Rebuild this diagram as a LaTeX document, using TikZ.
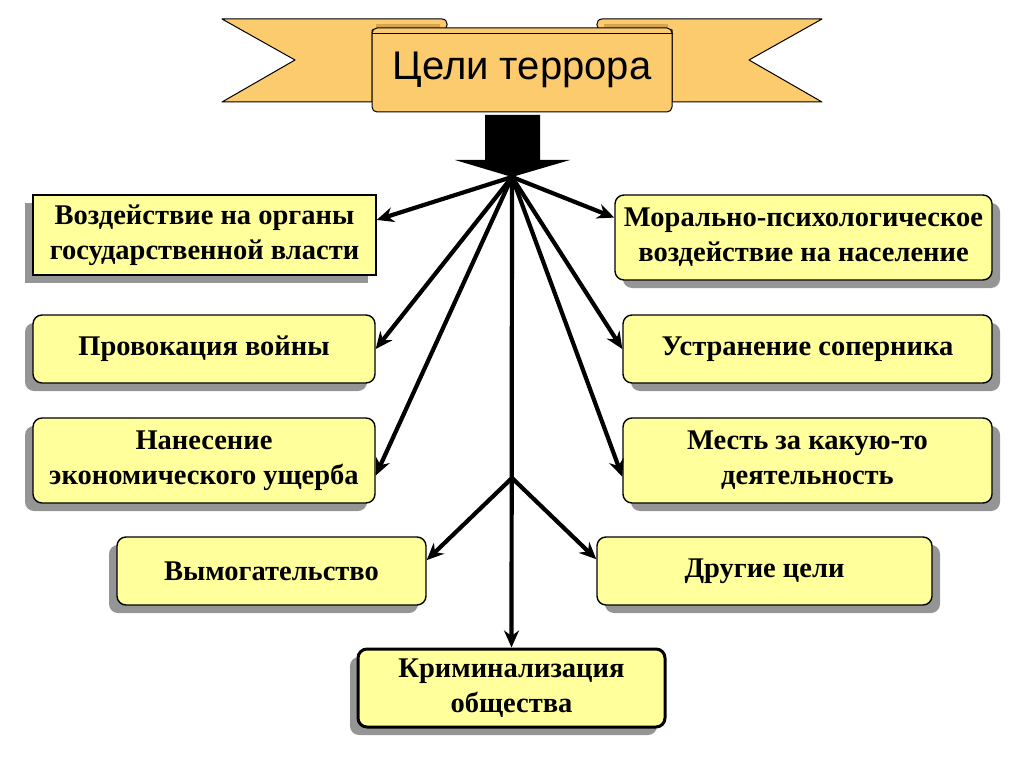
\documentclass[tikz,border=0pt]{standalone}
\usepackage{fontspec}
\setmainfont{Liberation Serif}
\newfontfamily\bannerfont{Liberation Sans}
\usetikzlibrary{arrows.meta,shadows}
\definecolor{ribbon}{HTML}{FBCB6E}
\definecolor{ribbondark}{HTML}{D6A64E}
\definecolor{goalfill}{HTML}{FFFF9C}
\definecolor{shadowgray}{HTML}{959595}

\begin{document}
\begin{tikzpicture}[x=1pt,y=-1pt,
		goal/.style={draw,line width=1.4pt,fill=goalfill,rounded corners=9pt,align=center,inner sep=0pt,font=\bfseries\fontsize{28.5}{35}\selectfont},
		lshadow/.style={drop shadow={shadow xshift=-8pt,shadow yshift=-8pt,fill=shadowgray,opacity=1}},
		rshadow/.style={drop shadow={shadow xshift=8pt,shadow yshift=-8pt,fill=shadowgray,opacity=1}},
		link/.style={line width=4.2pt,-{Stealth[length=17pt,width=15pt]}},
		ribbonpart/.style={draw,line width=1pt,fill=ribbon,line join=round}]
		\useasboundingbox (0,0) rectangle (1024,767);

		\draw[ribbonpart] (222,19) -- (442,19) to[out=0,in=0,looseness=1.6] (442,30) -- (372,30) -- (372,102) -- (222,102) -- (295,60) -- cycle;
		\draw[ribbonpart] (822,19) -- (602,19) to[out=180,in=180,looseness=1.6] (602,30) -- (672,30) -- (672,102) -- (822,102) -- (749,60) -- cycle;
		\fill[ribbondark] (376,24) rectangle (440,30);
		\fill[ribbondark] (604,24) rectangle (668,30);
		\node[draw,line width=1pt,fill=ribbon,rounded corners=5pt,minimum width=300pt,minimum height=84pt,font=\bannerfont\fontsize{40}{44}\selectfont] (title) at (522,70) {Цели террора};
		\draw[line width=.8pt] ([yshift=-6pt]title.north west) -- ([yshift=-6pt]title.north east);

		\fill (485,115) -- (540,115) -- (540,160) -- (570,160) -- (512,177) -- (455,160) -- (485,160) -- cycle;
		\coordinate (hub) at (512,177);
		\coordinate (fork) at (512,478);

		\node[goal,lshadow,rounded corners=0pt,minimum width=343pt,minimum height=80pt] (vozd) at (204.5,235) {Воздействие на органы\\государственной власти};
		\node[goal,lshadow,minimum width=342pt,minimum height=68pt] (prov) at (204,349) {Провокация войны};
		\node[goal,lshadow,minimum width=342pt,minimum height=85pt] (econ) at (204,460.5) {Нанесение\\экономического ущерба};
		\node[goal,lshadow,minimum width=309pt,minimum height=68pt] (vym) at (271.5,571) {Вымогательство};
		\node[goal,lshadow,line width=3pt,minimum width=307pt,minimum height=78pt] (krim) at (511.5,688) {Криминализация\\общества};
		\node[goal,rshadow,minimum width=377pt,minimum height=85pt] (moral) at (803.5,237.5) {Морально-психологическое\\воздействие на население};
		\node[goal,rshadow,minimum width=369pt,minimum height=68pt] (ustr) at (807.5,349) {Устранение соперника};
		\node[goal,rshadow,minimum width=369pt,minimum height=85pt] (mest) at (807.5,460.5) {Месть за какую-то\\деятельность};
		\node[goal,rshadow,minimum width=335pt,minimum height=68pt] (drug) at (764.5,571) {Другие цели};

		\draw[link] (hub) -- (vozd.5);
		\draw[link] (hub) -- (prov.east);
		\draw[link] (hub) -- (econ.-5);
		\draw[link] (hub) -- (moral.174);
		\draw[link] (hub) -- (ustr.west);
		\draw[link] (hub) -- (mest.185);
		\draw[link] (hub) -- (krim.north);
		\draw[link] (fork) -- (vym.4);
		\draw[link] (fork) -- (drug.176);
\end{tikzpicture}
\end{document}
